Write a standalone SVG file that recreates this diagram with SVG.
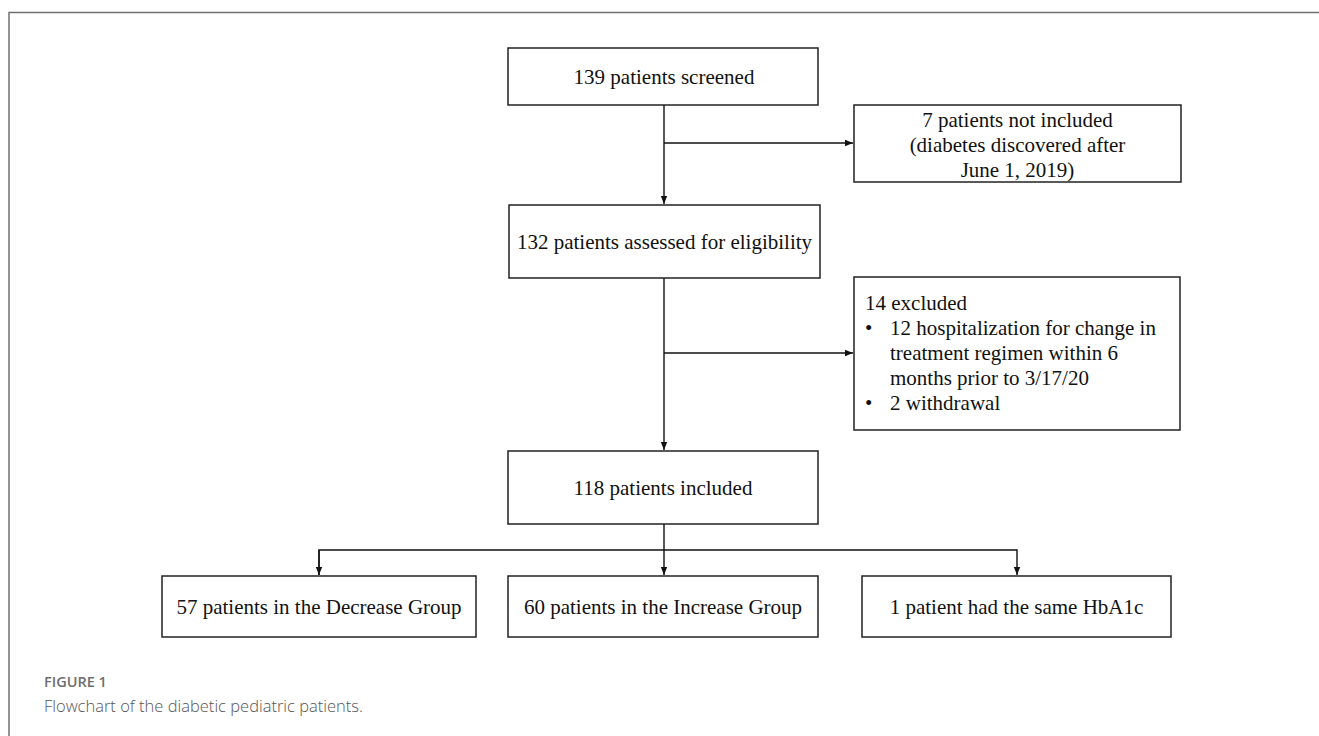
<svg xmlns="http://www.w3.org/2000/svg" width="1319" height="736" viewBox="0 0 1319 736">
  <defs>
    <style>
      .box { fill: #ffffff; stroke: #222222; stroke-width: 1.5; }
      .t { font-family: "Liberation Serif", "Times New Roman", serif; font-size: 21px; fill: #111111; }
      .c { text-anchor: middle; }
      .edge { fill: none; stroke: #111111; stroke-width: 1.4; }
      .frame { fill: none; stroke: #707070; stroke-width: 1.5; }
      .cap1 { font-family: "Open Sans", "Noto Sans", sans-serif; font-size: 14.5px; font-weight: 600; fill: #6e6e6e; }
      .cap2 { font-family: "Open Sans", "Noto Sans", sans-serif; font-size: 16.5px; font-weight: 300; fill: #555555; }
    </style>
    <marker id="arr" viewBox="0 0 10 10" refX="10" refY="5" markerWidth="8" markerHeight="8" markerUnits="userSpaceOnUse" orient="auto">
      <path d="M0,1 L10,5 L0,9 Z" fill="#111111"/>
    </marker>
  </defs>

  <rect width="1319" height="736" fill="#ffffff"/>
  <path class="frame" d="M9,736 L9,12.5 L1319,12.5"/>

  <g id="connectors">
    <path class="edge" d="M664,105 L664,204" marker-end="url(#arr)"/>
    <path class="edge" d="M664,143 L853,143" marker-end="url(#arr)"/>
    <path class="edge" d="M664,278 L664,450" marker-end="url(#arr)"/>
    <path class="edge" d="M664,353 L853,353" marker-end="url(#arr)"/>
    <path class="edge" d="M664,524 L664,575" marker-end="url(#arr)"/>
    <path class="edge" d="M319,575 L319,550 L1017,550 L1017,575" marker-end="url(#arr)"/>
    <path class="edge" d="M319,550 L319,575" marker-end="url(#arr)"/>
  </g>

  <g id="node-screened">
    <rect class="box" x="508" y="48" width="310" height="57"/>
    <text class="t c" x="664" y="84">139 patients screened</text>
  </g>

  <g id="node-not-included">
    <rect class="box" x="854" y="105" width="327" height="77"/>
    <text class="t c" x="1017.5" y="127">7 patients not included</text>
    <text class="t c" x="1017.5" y="152">(diabetes discovered after</text>
    <text class="t c" x="1017.5" y="177">June 1, 2019)</text>
  </g>

  <g id="node-assessed">
    <rect class="box" x="509" y="205" width="311" height="73"/>
    <text class="t c" x="664.5" y="249">132 patients assessed for eligibility</text>
  </g>

  <g id="node-excluded">
    <rect class="box" x="854" y="277" width="326" height="153"/>
    <text class="t" x="865" y="310">14 excluded</text>
    <text class="t" x="865" y="335">•</text>
    <text class="t" x="890" y="335">12 hospitalization for change in</text>
    <text class="t" x="890" y="360">treatment regimen within 6</text>
    <text class="t" x="890" y="385">months prior to 3/17/20</text>
    <text class="t" x="865" y="410">•</text>
    <text class="t" x="890" y="410">2 withdrawal</text>
  </g>

  <g id="node-included">
    <rect class="box" x="508" y="451" width="310" height="73"/>
    <text class="t c" x="663" y="495">118 patients included</text>
  </g>

  <g id="node-decrease">
    <rect class="box" x="162" y="576" width="314" height="61"/>
    <text class="t c" x="319" y="614">57 patients in the Decrease Group</text>
  </g>

  <g id="node-increase">
    <rect class="box" x="508" y="576" width="310" height="61"/>
    <text class="t c" x="663" y="614">60 patients in the Increase Group</text>
  </g>

  <g id="node-same">
    <rect class="box" x="862" y="576" width="309" height="61"/>
    <text class="t c" x="1016.5" y="614">1 patient had the same HbA1c</text>
  </g>

  <text class="cap1" x="44" y="687">FIGURE 1</text>
  <text class="cap2" x="44" y="712">Flowchart of the diabetic pediatric patients.</text>
</svg>
